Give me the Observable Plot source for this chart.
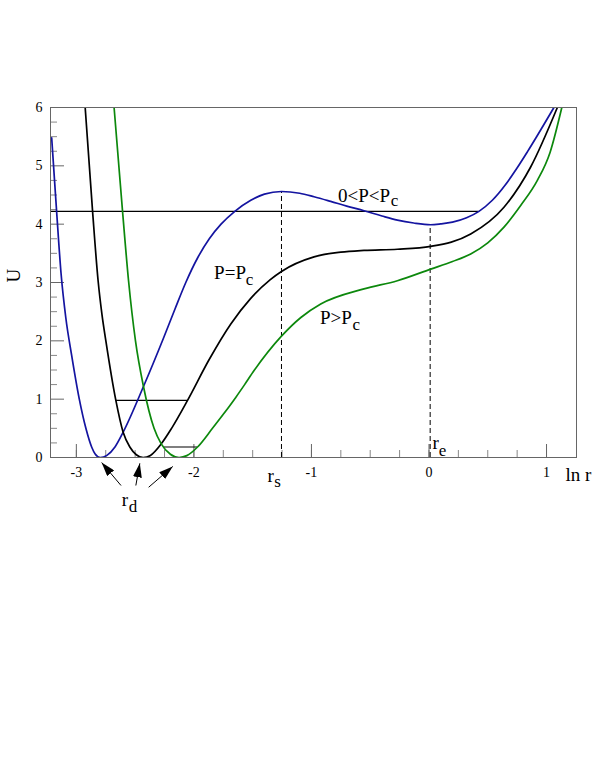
<!DOCTYPE html>
<html>
<head>
<meta charset="utf-8">
<script src="https://cdn.jsdelivr.net/npm/d3@7"></script>
<script src="https://cdn.jsdelivr.net/npm/@observablehq/plot@0.6"></script>
<style>
  html, body { margin: 0; padding: 0; background: #fff; }
</style>
</head>
<body>
<div id="chart"></div>
<script>
// ---- Data ----
// Blue curve (0 < P < Pc)
const blueX = [-3.21, -3.168, -3.13, -3.09, -3.04, -2.975, -2.919, -2.87, -2.84, -2.797, -2.74, -2.67, -2.602, -2.429, -2.26, -2.16, -2.069, -1.969, -1.869, -1.769, -1.652, -1.516, -1.4, -1.255, -1.1, -0.978, -0.836, -0.7, -0.553, -0.4, -0.269, -0.13, 0.014, 0.1, 0.2, 0.32, 0.425, 0.539, 0.652, 0.745, 0.837, 1.063];
const blueU = [5.48, 4.22, 3.15, 2.4, 1.75, 1.0, 0.5, 0.18, 0.06, 0.0, 0.037, 0.185, 0.434, 1.217, 2.04, 2.55, 3.0, 3.42, 3.75, 4.0, 4.22, 4.41, 4.515, 4.56, 4.53, 4.47, 4.39, 4.31, 4.23, 4.14, 4.07, 4.02, 3.99, 4.005, 4.035, 4.11, 4.22, 4.41, 4.68, 4.95, 5.24, 6.0];
// Black curve (P = Pc)
const blackX = [-2.925, -2.862, -2.815, -2.782, -2.749, -2.664, -2.602, -2.545, -2.49, -2.432, -2.37, -2.278, -2.19, -2.054, -1.87, -1.686, -1.52, -1.35, -1.255, -0.978, -0.75, -0.553, -0.269, 0.014, 0.355, 0.638, 0.865, 1.092];
const blackU = [6.0, 4.22, 3.03, 2.45, 2.0, 0.98, 0.434, 0.18, 0.047, 0.0, 0.036, 0.234, 0.5, 0.98, 1.68, 2.29, 2.72, 3.05, 3.19, 3.44, 3.52, 3.55, 3.57, 3.62, 3.83, 4.29, 4.98, 6.0];
// Green curve (P > Pc)
const greenX = [-2.679, -2.607, -2.556, -2.497, -2.429, -2.339, -2.278, -2.2, -2.126, -2.06, -1.969, -1.842, -1.75, -1.644, -1.57, -1.488, -1.255, -1.09, -0.921, -0.553, -0.269, 0.015, 0.2, 0.355, 0.5, 0.638, 0.78, 0.922, 1.03, 1.13];
const greenU = [6.0, 4.22, 3.03, 2.0, 1.217, 0.5, 0.234, 0.055, 0.0, 0.032, 0.18, 0.5, 0.74, 1.03, 1.245, 1.49, 2.08, 2.4, 2.63, 2.89, 3.03, 3.23, 3.36, 3.49, 3.68, 3.95, 4.32, 4.75, 5.23, 6.0];

// Horizontal energy levels
const levelU  = [4.22, 0.98, 0.18];
const levelX1 = [-3.22, -2.664, -2.253];
const levelX2 = [0.425, -2.054, -1.969];

// Dashed verticals (r_s and r_e)
const dashX   = [-1.255, 0.01];
const dashTop = [4.56, 3.99];

// Arrows to the r_d minima
const arrowX1 = [-2.62, -2.494, -2.385];
const arrowY1 = [-0.48, -0.48, -0.51];
const arrowX2 = [-2.785, -2.46, -2.18];
const arrowY2 = [-0.086, -0.10, -0.154];

// Axis ticks
const xTickLabels = [-3, -2, -1, 0, 1];
const xMinor = [-3, -2.75, -2.5, -2.25, -2, -1.75, -1.5, -1.25, -1, -0.75, -0.5, -0.25, 0, 0.25, 0.5, 0.75, 1];
const yTickLabels = [0, 1, 2, 3, 4, 5, 6];
const yMinor = [0.25, 0.5, 0.75, 1.25, 1.5, 1.75, 2.25, 2.5, 2.75, 3.25, 3.5, 3.75, 4.25, 4.5, 4.75, 5.25, 5.5, 5.75];

// Annotations (main text + subscript)
const labelText = ["0<P<P", "P=P", "P>P", "r", "r", "r"];
const labelX    = [-0.774, -1.828, -0.927, -1.374, -2.613, 0.029];
const labelU    = [4.377, 3.064, 2.292, -0.423, -0.823, 0.154];
const subText   = ["c", "c", "c", "s", "d", "e"];
const subX      = [-0.326, -1.559, -0.651, -1.316, -2.554, 0.083];
const subU      = [4.32, 2.949, 2.189, -0.509, -0.938, 0.034];

// ---- Build tables ----
const curves = [
  ...blueX.map((x, i) => ({x, u: blueU[i], s: "blue"})),
  ...blackX.map((x, i) => ({x, u: blackU[i], s: "black"})),
  ...greenX.map((x, i) => ({x, u: greenU[i], s: "green"}))
];
const colors = {blue: "#1414a0", black: "#000000", green: "#0c880c"};
const levels = levelU.map((u, i) => ({u, x1: levelX1[i], x2: levelX2[i]}));
const dashes = dashX.map((x, i) => ({x, top: dashTop[i]}));
const arrows = arrowX1.map((x, i) => ({x1: x, y1: arrowY1[i], x2: arrowX2[i], y2: arrowY2[i]}));
const labels = labelText.map((t, i) => ({t, x: labelX[i], u: labelU[i]}));
const subs = subText.map((t, i) => ({t, x: subX[i], u: subU[i]}));

const serif = "'Liberation Serif', 'Times New Roman', serif";

const chart = Plot.plot({
  width: 595,
  height: 540,
  marginLeft: 50,
  marginRight: 19,
  marginTop: 107,
  marginBottom: 83,
  style: {fontFamily: serif, fontSize: "14px", background: "#fff", color: "#000"},
  x: {domain: [-3.22, 1.255]},
  y: {domain: [0, 6]},
  marks: [
    Plot.tickX(xMinor, {x: d => d, insetTop: 343, stroke: "#888"}),
    Plot.tickX(xTickLabels, {x: d => d, insetTop: 337, stroke: "#666"}),
    Plot.tickY(yMinor, {y: d => d, insetRight: 519, stroke: "#888"}),
    Plot.tickY(yTickLabels, {y: d => d, insetRight: 512, stroke: "#666"}),
    Plot.axisX(xTickLabels, {tickSize: 0, tickPadding: 10, fontSize: 14, label: null, tickFormat: d => String(d)}),
    Plot.axisY(yTickLabels, {tickSize: 0, tickPadding: 8, fontSize: 14, label: null, tickFormat: d => String(d)}),
    Plot.ruleY(levels, {y: "u", x1: "x1", x2: "x2", stroke: "#000", strokeWidth: 1.2}),
    Plot.ruleX(dashes, {x: "x", y1: 0, y2: "top", stroke: "#000", strokeWidth: 1, strokeDasharray: "5,3"}),
    Plot.line(curves, {x: "x", y: "u", z: "s", stroke: d => colors[d.s], strokeWidth: 1.7, curve: "monotone-x", clip: true}),
    Plot.frame({stroke: "#666"}),
    Plot.link(arrows, {x1: "x1", y1: "y1", x2: "x2", y2: "y2", stroke: "#000", strokeWidth: 1}),
    Plot.text(labels, {x: "x", y: "u", text: "t", textAnchor: "start", lineAnchor: "bottom", fontSize: 19}),
    Plot.text(subs, {x: "x", y: "u", text: "t", textAnchor: "start", lineAnchor: "bottom", fontSize: 17}),
    Plot.text(["U"], {frameAnchor: "left", dx: -37, rotate: -90, fontSize: 19}),
    Plot.text(["ln r"], {frameAnchor: "bottom-right", dx: -11, dy: 23, textAnchor: "start", lineAnchor: "bottom", fontSize: 19})
  ]
});

// Filled arrowheads for the link mark
const ns = "http://www.w3.org/2000/svg";
const defs = document.createElementNS(ns, "defs");
const marker = document.createElementNS(ns, "marker");
marker.setAttribute("id", "filled-head");
marker.setAttribute("viewBox", "0 0 14 9");
marker.setAttribute("refX", "14");
marker.setAttribute("refY", "4.5");
marker.setAttribute("markerWidth", "14");
marker.setAttribute("markerHeight", "9");
marker.setAttribute("markerUnits", "userSpaceOnUse");
marker.setAttribute("orient", "auto");
const head = document.createElementNS(ns, "path");
head.setAttribute("d", "M0,0L14,4.5L0,9Z");
head.setAttribute("fill", "#000");
marker.appendChild(head);
defs.appendChild(marker);
chart.insertBefore(defs, chart.firstChild);
chart.querySelectorAll('g[aria-label="link"] path').forEach(p => p.setAttribute("marker-end", "url(#filled-head)"));

document.getElementById("chart").appendChild(chart);
</script>
</body>
</html>
